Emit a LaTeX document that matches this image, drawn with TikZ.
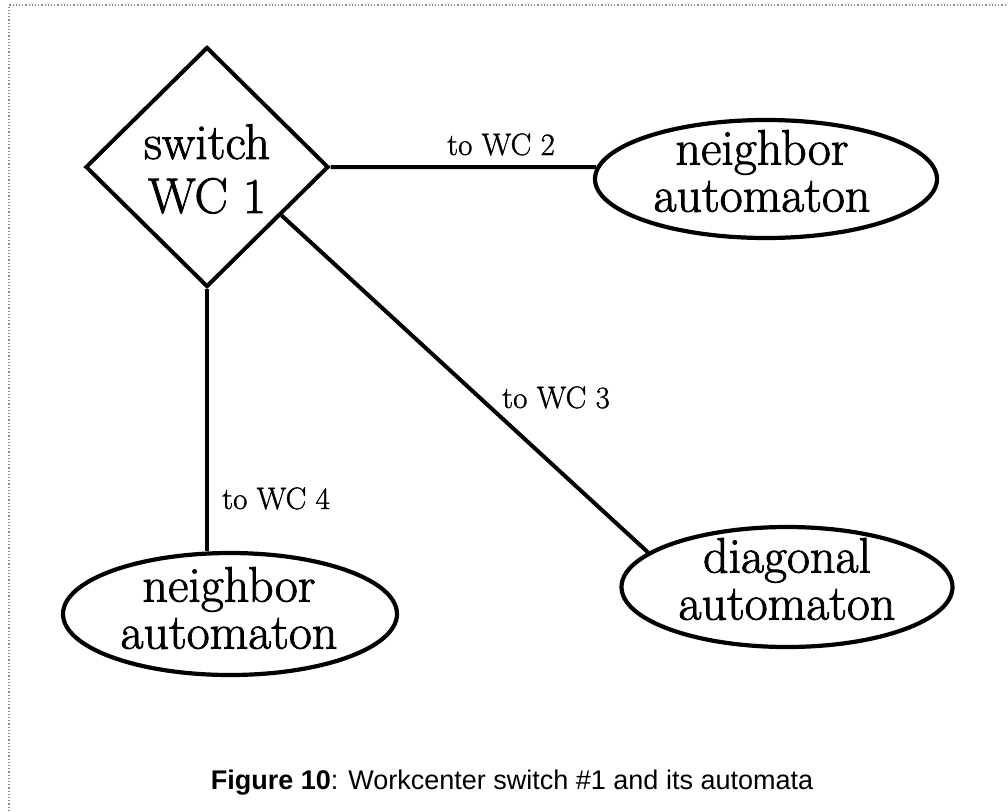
\documentclass[tikz,border=0pt]{standalone}
\usepackage{fontspec}
\usetikzlibrary{shapes.geometric}
\newfontfamily\capfont{Liberation Sans}
\newfontfamily\diagfont{Latin Modern Roman}[FakeBold=1.6]
\newfontfamily\edgefont{Latin Modern Roman}[FakeBold=1.2]

\tikzset{
  link/.style={line width=4pt},
  switchbox/.style={draw, line width=4pt, shape=diamond, minimum width=243pt,
    minimum height=240pt, inner sep=0pt},
  autobox/.style={draw, line width=4.2pt, ellipse, inner sep=0pt},
  bigtext/.style={align=center, inner sep=0pt, font=\diagfont\fontsize{50}{47}\selectfont},
  edgetext/.style={inner sep=0pt, anchor=base, font=\edgefont\fontsize{31}{32}\selectfont},
  frameline/.style={draw=black!45, line width=1.2pt, dotted},
}

\begin{document}
\begin{tikzpicture}[x=1pt, y=-1pt]
  \useasboundingbox (0,0) rectangle (1008,811);

  % dotted page frame
  \draw[frameline] (9,811) -- (9,5) -- (1008,5);

  % switch and its automata
  \node[switchbox] (sw) at (207,167) {};
  \node[bigtext, font=\diagfont\fontsize{50}{54}\selectfont] (swtext) at (207,169) {switch\\WC 1};

  \node[autobox, minimum width=342pt, minimum height=118pt] (nb2) at (766,179) {};
  \node[bigtext] (nb2text) at (762,171) {neighbor\\automaton};

  \node[autobox, minimum width=331pt, minimum height=120pt] (dg3) at (787,587) {};
  \node[bigtext] (dg3text) at (787,579) {diagonal\\automaton};

  \node[autobox, minimum width=334pt, minimum height=122pt] (nb4) at (230,614) {};
  \node[bigtext] (nb4text) at (229,608) {neighbor\\automaton};

  % connectors
  \draw[link] (sw.east) -- (nb2.176);
  \draw[link] (sw.-33) -- (dg3.166);
  \draw[link] (sw.south) -- (sw.south |- nb4.north);

  % connector labels
  \node[edgetext] (lab2) at (501,155) {to WC 2};
  \node[edgetext] (lab3) at (556,408) {to WC 3};
  \node[edgetext] (lab4) at (276,509) {to WC 4};

  % caption
  \node[inner sep=0pt, anchor=base, font=\capfont\fontsize{27}{30}\selectfont] (cap)
    at (512,789) {\textbf{Figure 10}: Workcenter switch \#1 and its automata};
\end{tikzpicture}
\end{document}
